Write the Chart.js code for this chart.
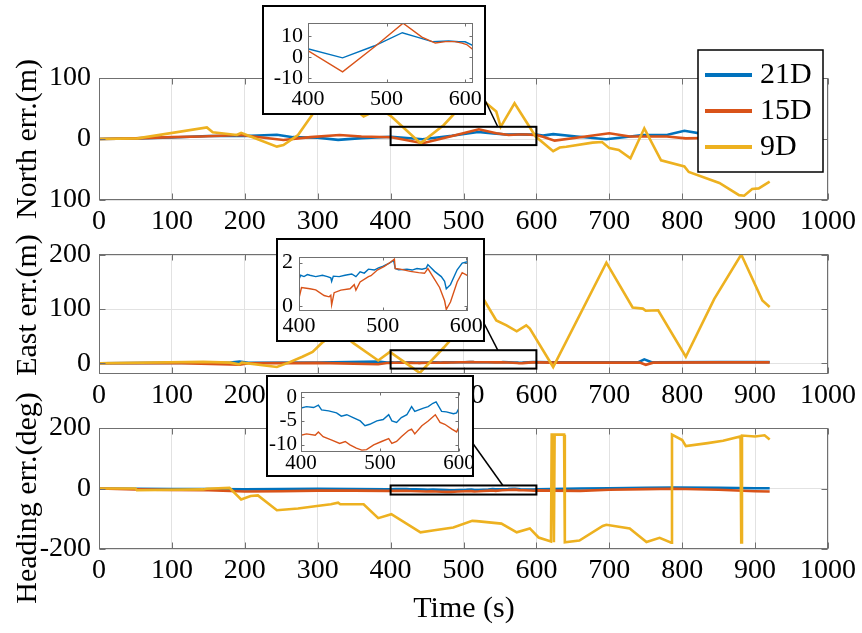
<!DOCTYPE html>
<html>
<head>
<meta charset="utf-8">
<script src="https://cdn.jsdelivr.net/npm/chart.js@4.4.1/dist/chart.umd.min.js"></script>
<style>
  html, body { margin: 0; padding: 0; background: #fff; }
  #fig { position: relative; width: 862px; height: 633px; overflow: hidden; background: #fff; }
  #fig canvas { position: absolute; }
</style>
</head>
<body>
<div id="fig">
  <canvas id="north" width="862" height="633" style="left:0;top:0"></canvas>
  <canvas id="east" width="862" height="633" style="left:0;top:0"></canvas>
  <canvas id="heading" width="862" height="633" style="left:0;top:0"></canvas>
  <canvas id="northZoom" width="224" height="110" style="left:262px;top:5px"></canvas>
  <canvas id="eastZoom" width="209" height="104" style="left:276px;top:238px"></canvas>
  <canvas id="headingZoom" width="208" height="102" style="left:266px;top:375px"></canvas>
</div>
<script>
// ---- series ----
const seriesNames = ['21D', '15D', '9D'];
const seriesColors = ['#0072BD', '#D95319', '#EDB120'];

// ---- ticks ----
const timeTicks = [0, 100, 200, 300, 400, 500, 600, 700, 800, 900, 1000];
const timeTickText = ['0', '100', '200', '300', '400', '500', '600', '700', '800', '900', '1000'];
const zoomTimeTicks = [400, 500, 600];
const zoomTimeTickText = ['400', '500', '600'];
const northTicks = [-100, 0, 100];
const northTickText = ['100', '0', '100'];
const eastTicks = [0, 100, 200];
const eastTickText = ['0', '100', '200'];
const headingTicks = [-200, 0, 200];
const headingTickText = ['-200', '0', '200'];
const northZoomTicks = [-10, 0, 10];
const northZoomTickText = ['-10', '0', '10'];
const eastZoomTicks = [0, 1, 2];
const eastZoomTickText = ['0', '1', '2'];
const headingZoomTicks = [-10, -5, 0];
const headingZoomTickText = ['-10', '-5', '0'];

// ---- axis titles ----
const yTitles = ['North err.(m)', 'East err.(m)', 'Heading err.(deg)'];
const xTitle = 'Time (s)';

// ---- North error (m) ----
const north21T = [0, 50, 100, 150, 200, 244, 266, 300, 328, 360, 401, 444, 484, 520, 541, 558, 579, 592, 600, 609, 623, 655, 696, 720, 746, 780, 803, 830, 870, 920];
const north21V = [0, 1, 2.5, 5, 5, 7, 3, 2, -1.5, 1.5, 3.8, -0.4, 5.2, 11.5, 9.2, 7.3, 7.6, 7.2, 7.2, 5.6, 8, 4, -0.5, 3, 6.6, 7, 13.6, 8, 10, 9];
const north15T = [0, 50, 100, 140, 194, 253, 290, 330, 360, 401, 444, 486, 521, 545, 562, 575, 587, 596, 602, 609, 625, 660, 700, 728, 779, 805, 850, 920];
const north15V = [0, 1, 3, 4, 6.5, -1.6, 3, 6.5, 4, 2.8, -7, 5.2, 16, 9.4, 6.6, 7.3, 7.3, 6.6, 5.9, 3.8, -2.7, 3, 9.3, 4, 4, 1, 2, 1];
const north9T = [0, 53, 148, 156, 189, 195, 208, 244, 253, 273, 292, 320, 345, 363, 385, 400, 441, 473, 490, 520, 545, 551, 570, 599, 623, 632, 641, 677, 690, 700, 713, 729, 748, 771, 803, 809, 851, 878, 885, 896, 905, 920];
const north9V = [0, 1, 19, 11, 6.5, 10, 4, -12.5, -10, 6.5, 39, 80, 55, 37, 50, 38, -7, 23, 45, 70, 45, 20, 58.5, 4, -20, -14, -12.6, -6, -5, -15, -18, -31.7, 17.5, -35, -45, -54, -72, -92, -93, -82, -81, -70];

// ---- East error (m) ----
const east21T = [0, 100, 180, 193, 205, 300, 383, 395, 400, 402, 406, 410, 413, 420, 428, 434, 438, 439, 441, 448, 455, 463, 468, 473, 478, 483, 490, 495, 500, 508, 513, 515, 519, 529, 535, 541, 547, 552, 554, 562, 570, 574, 576, 581, 589, 595, 601, 620, 700, 740, 748, 758, 850, 920];
const east21V = [0, 0.5, 1, 3, 0.8, 1, 3, 1.2, 1.23, 1.42, 1.36, 1.45, 1.42, 1.36, 1.42, 1.36, 1.30, 1.14, 1.38, 1.36, 1.42, 1.48, 1.36, 1.58, 1.52, 1.70, 1.66, 1.76, 1.83, 1.98, 2.10, 1.73, 1.67, 1.70, 1.66, 1.73, 1.70, 1.75, 1.91, 1.60, 1.36, 1.14, 0.80, 0.99, 1.67, 1.98, 2.04, 1.5, 1.5, 1.8, 7, 1.8, 2, 2];
const east15T = [0, 100, 193, 205, 300, 383, 395, 400, 403, 413, 420, 430, 436, 438, 439, 442, 450, 461, 466, 468, 473, 483, 486, 494, 502, 510, 514, 515, 521, 533, 543, 550, 554, 560, 568, 574, 576, 581, 589, 595, 601, 620, 700, 742, 750, 760, 850, 920];
const east15V = [0, 0.3, -3, 0, 0.5, -2, 0.3, 0.37, 0.86, 0.80, 0.75, 0.49, 0.43, 0.50, 0.06, 0.62, 0.74, 0.80, 0.99, 0.74, 1.11, 1.36, 1.40, 1.67, 1.83, 2.04, 2.16, 1.73, 1.70, 1.60, 1.54, 1.51, 1.73, 1.36, 0.86, 0.25, -0.15, 0.19, 1.11, 1.54, 1.42, 1, 1, 1, -3, 1, 1.5, 1.5];
const east9T = [0, 143, 180, 192, 196, 244, 260, 279, 293, 307, 328, 349, 383, 399, 440, 473, 529, 545, 559, 573, 586, 591, 623, 696, 732, 746, 750, 767, 805, 844, 881, 910, 920];
const east9V = [0, 2.5, 1, -2, 1, -7, 1, 12, 21, 39, 60, 37, 5, 21, -18, 29, 115, 79, 70, 59, 70, 64, -7, 186, 103, 101, 97, 98, 12, 119, 201, 116, 104];

// ---- Heading error (deg) ----
const heading21T = [0, 50, 100, 150, 200, 250, 300, 350, 395, 400, 407, 416, 422, 426, 435, 445, 451, 458, 466, 475, 481, 487, 496, 504, 511, 515, 521, 527, 534, 540, 544, 555, 561, 567, 571, 578, 584, 593, 597, 600, 620, 660, 700, 750, 790, 850, 900, 920];
const heading21V = [0, -1, -2, -2, -3, -2, -1, -2, -2.5, -2.3, -2, -2.2, -1.7, -2.7, -2.9, -3.3, -4, -3.7, -4.3, -5, -6, -5.7, -5, -4.7, -3.7, -5, -5.3, -4.3, -3.7, -2, -3, -2.3, -2, -1.3, -1, -3, -3.1, -3.5, -3.3, -2.3, -2, 0, 1, 2, 3, 2, 1, 1];
const heading15T = [0, 50, 100, 150, 200, 250, 300, 350, 395, 400, 407, 418, 422, 428, 439, 449, 456, 462, 470, 477, 483, 492, 502, 511, 515, 521, 527, 536, 540, 544, 553, 561, 570, 576, 582, 591, 597, 600, 620, 660, 700, 750, 790, 850, 900, 920];
const heading15V = [0, -3, -5, -6, -10, -9, -7, -7, -8, -8, -7.7, -8, -7.3, -8.3, -9, -9.7, -9.3, -10, -10.7, -11.1, -11, -10, -9.3, -8.7, -9.7, -9.3, -8.3, -7, -6.7, -7.7, -6, -5, -3.7, -5.3, -5.7, -6.7, -7.3, -6.3, -7, -8, -4, -2, -1, -4, -9, -10];
const heading9T = [0, 50, 52, 143, 148, 179, 195, 208, 218, 244, 273, 299, 318, 328, 331, 363, 383, 401, 441, 460, 486, 512, 518, 552, 573, 591, 603, 620, 621, 623, 624, 625, 638, 639, 659, 691, 696, 728, 751, 769, 785, 786, 800, 805, 835, 856, 880, 881, 882, 900, 913, 920];
const heading9V = [0, 0, -6, -3, -1, 2, -36, -25, -23, -72, -66, -58, -52, -47, -52, -52, -98, -85, -145, -138, -129, -107, -108, -116, -145, -132, -162, -175, 178, 178, -178, 178, 178, -178, -172, -124, -120, -132, -177, -163, -179, 178, 160, 140, 150, 158, 172, -178, 175, 172, 176, 162];

// ---- zoom windows ----
const northZoomWindow = { x: [400, 600], y: [-10, 20] };
const eastZoomWindow = { x: [400, 600], y: [-10, 24] };
const headingZoomWindow = { x: [400, 600], y: [-20, 10] };

const SERIF = "'Liberation Serif', 'Times New Roman', Times, serif";
const AXIS_COLOR = '#707070';
const GRID_COLOR = '#e2e2e2';
const PLOT_LEFT = 99, PLOT_RIGHT = 828, PAGE_W = 862, PAGE_H = 633;

Chart.defaults.font.family = SERIF;
Chart.defaults.color = '#000';

const xy = (ts, vs) => ts.map((t, i) => ({ x: t, y: vs[i] }));

function lineSets(sets, width) {
  return sets.map((s, i) => ({
    label: seriesNames[i],
    data: s,
    borderColor: seriesColors[i],
    backgroundColor: seriesColors[i],
    borderWidth: width,
    pointRadius: 0,
    tension: 0,
    fill: false,
    order: 3 - i
  }));
}

// axes box, inner ticks, zoom window, connector, titles and legend
const framePlugin = {
  id: 'frame',
  beforeDraw(chart, args, o) {
    if (o.paper) {
      const c = chart.ctx;
      c.save();
      c.fillStyle = '#fff';
      c.fillRect(0, 0, chart.width, chart.height);
      c.restore();
    }
  },
  afterDraw(chart, args, o) {
    const c = chart.ctx, a = chart.chartArea, xs = chart.scales.x, ys = chart.scales.y;
    c.save();
    const L = Math.round(a.left) + 0.5, R = Math.round(a.right) - 0.5;
    const T = Math.round(a.top) + 0.5, B = Math.round(a.bottom) - 0.5;
    const tl = o.tickLen || 0;
    c.strokeStyle = AXIS_COLOR;
    c.lineWidth = 1;
    c.beginPath();
    xs.ticks.forEach(t => {
      const px = Math.round(xs.getPixelForValue(t.value)) + 0.5;
      if (px < L - 1 || px > R + 1) return;
      c.moveTo(px, B); c.lineTo(px, B - tl);
      c.moveTo(px, T); c.lineTo(px, T + tl);
    });
    ys.ticks.forEach(t => {
      const py = Math.round(ys.getPixelForValue(t.value)) + 0.5;
      c.moveTo(L, py); c.lineTo(L + tl, py);
      c.moveTo(R, py); c.lineTo(R - tl, py);
    });
    c.stroke();
    c.strokeRect(L, T, R - L, B - T);

    if (o.zoomWindow) {
      const w = o.zoomWindow;
      const x0 = xs.getPixelForValue(w.x[0]), x1 = xs.getPixelForValue(w.x[1]);
      const y0 = ys.getPixelForValue(w.y[1]), y1 = ys.getPixelForValue(w.y[0]);
      c.strokeStyle = '#000';
      c.lineWidth = 2;
      c.strokeRect(x0, y0, x1 - x0, y1 - y0);
    }
    if (o.link) {
      c.strokeStyle = '#000';
      c.lineWidth = 1.5;
      c.beginPath();
      c.moveTo(o.link.from[0], o.link.from[1]);
      c.lineTo(xs.getPixelForValue(o.link.to[0]), ys.getPixelForValue(o.link.to[1]));
      c.stroke();
    }
    if (o.yTitle) {
      c.fillStyle = '#000';
      c.font = '30px ' + SERIF;
      c.textAlign = 'center';
      c.textBaseline = 'alphabetic';
      c.translate(o.yTitle.x, o.yTitle.y);
      c.rotate(-Math.PI / 2);
      c.fillText(o.yTitle.text, 0, 0);
      c.setTransform(1, 0, 0, 1, 0, 0);
    }
    if (o.xTitle) {
      c.fillStyle = '#000';
      c.font = '30px ' + SERIF;
      c.textAlign = 'center';
      c.textBaseline = 'alphabetic';
      c.fillText(o.xTitle.text, o.xTitle.x, o.xTitle.y);
    }
    if (o.legend) {
      const g = o.legend;
      c.fillStyle = '#fff';
      c.fillRect(g.x, g.y, g.w, g.h);
      c.strokeStyle = '#000';
      c.lineWidth = 1.5;
      c.strokeRect(g.x, g.y, g.w, g.h);
      c.font = '30px ' + SERIF;
      c.textAlign = 'left';
      c.textBaseline = 'middle';
      chart.data.datasets.forEach((d, i) => {
        const yy = g.y + 25 + i * 36;
        c.strokeStyle = d.borderColor;
        c.lineWidth = 4;
        c.beginPath();
        c.moveTo(g.x + 7, yy);
        c.lineTo(g.x + 54, yy);
        c.stroke();
        c.fillStyle = '#000';
        c.fillText(d.label, g.x + 62, yy);
      });
    }
    if (o.outline) {
      c.strokeStyle = '#000';
      c.lineWidth = 2;
      c.strokeRect(1, 1, chart.width - 2, chart.height - 2);
    }
    c.restore();
  }
};

function mainChart(id, p) {
  return new Chart(document.getElementById(id), {
    type: 'line',
    data: { datasets: lineSets(p.sets, 2.6) },
    options: {
      responsive: false,
      animation: false,
      devicePixelRatio: 1,
      events: [],
      layout: { padding: { left: 0, right: PAGE_W - PLOT_RIGHT, top: p.top, bottom: PAGE_H - p.bottom - p.xAxisH } },
      plugins: {
        legend: { display: false },
        tooltip: { enabled: false },
        frame: p.frame
      },
      scales: {
        x: {
          type: 'linear', min: 0, max: 1000,
          afterBuildTicks: s => { s.ticks = timeTicks.map(v => ({ value: v })); },
          afterFit: s => { s.height = p.xAxisH; },
          grid: { color: GRID_COLOR, lineWidth: 1, drawTicks: false },
          border: { display: false },
          ticks: { font: { size: 28 }, color: '#000', padding: 5, maxRotation: 0, autoSkip: false,
                   callback: (v, i) => timeTickText[i] }
        },
        y: {
          type: 'linear', min: p.yMin, max: p.yMax,
          afterBuildTicks: s => { s.ticks = p.yTicks.map(v => ({ value: v })); },
          afterFit: s => { s.width = PLOT_LEFT; },
          grid: { color: GRID_COLOR, lineWidth: 1, drawTicks: false },
          border: { display: false },
          ticks: { font: { size: 28 }, color: '#000', padding: 8, callback: (v, i) => p.yText[i] }
        }
      }
    },
    plugins: [framePlugin]
  });
}

function zoomChart(id, p) {
  const el = document.getElementById(id);
  return new Chart(el, {
    type: 'line',
    data: { datasets: lineSets(p.sets, 1.4) },
    options: {
      responsive: false,
      animation: false,
      devicePixelRatio: 1,
      events: [],
      layout: { padding: { left: 0, right: p.right, top: p.top, bottom: 0 } },
      plugins: {
        legend: { display: false },
        tooltip: { enabled: false },
        frame: { paper: true, outline: true, tickLen: 3 }
      },
      scales: {
        x: {
          type: 'linear', min: p.xMin, max: p.xMax,
          afterBuildTicks: s => { s.ticks = zoomTimeTicks.map(v => ({ value: v })); },
          afterFit: s => { s.height = p.xH; },
          grid: { display: false, drawTicks: false },
          border: { display: false },
          ticks: { font: { size: p.font }, color: '#000', padding: p.xPad, maxRotation: 0, autoSkip: false,
                   callback: (v, i) => zoomTimeTickText[i] }
        },
        y: {
          type: 'linear', min: p.yMin, max: p.yMax,
          afterBuildTicks: s => { s.ticks = p.yTicks.map(v => ({ value: v })); },
          afterFit: s => { s.width = p.yW; },
          grid: { display: false, drawTicks: false },
          border: { display: false },
          ticks: { font: { size: p.font }, color: '#000', padding: p.yPad, callback: (v, i) => p.yText[i] }
        }
      }
    },
    plugins: [framePlugin]
  });
}

const northSets = [xy(north21T, north21V), xy(north15T, north15V), xy(north9T, north9V)];
const eastSets = [xy(east21T, east21V), xy(east15T, east15V), xy(east9T, east9V)];
const headingSets = [xy(heading21T, heading21V), xy(heading15T, heading15V), xy(heading9T, heading9V)];

mainChart('north', {
  sets: northSets, top: 78, bottom: 200, xAxisH: 40,
  yMin: -100, yMax: 100, yTicks: northTicks, yText: northTickText,
  frame: {
    tickLen: 6,
    zoomWindow: northZoomWindow,
    link: { from: [476.8, 83], to: [547, northZoomWindow.y[1]] },
    yTitle: { text: yTitles[0], x: 36, y: 139 },
    legend: { x: 698, y: 50, w: 125, h: 122 }
  }
});

mainChart('east', {
  sets: eastSets, top: 254, bottom: 374, xAxisH: 40,
  yMin: -20, yMax: 202, yTicks: eastTicks, yText: eastTickText,
  frame: {
    tickLen: 6,
    zoomWindow: eastZoomWindow,
    link: { from: [477.7, 311], to: [547, eastZoomWindow.y[1]] },
    yTitle: { text: yTitles[1], x: 36, y: 305 }
  }
});

mainChart('heading', {
  sets: headingSets, top: 428, bottom: 549, xAxisH: 84,
  yMin: -200, yMax: 200, yTicks: headingTicks, yText: headingTickText,
  frame: {
    tickLen: 6,
    zoomWindow: headingZoomWindow,
    link: { from: [459, 424], to: [554, headingZoomWindow.y[1]] },
    yTitle: { text: yTitles[2], x: 36, y: 498 },
    xTitle: { text: xTitle, x: 464, y: 617 }
  }
});

zoomChart('northZoom', {
  sets: northSets.slice(0, 2), xMin: 400, xMax: 610, yMin: -12.3, yMax: 16,
  yTicks: northZoomTicks, yText: northZoomTickText,
  top: 11, right: 13, xH: 32, yW: 46, font: 22, xPad: 3, yPad: 5
});

zoomChart('eastZoom', {
  sets: eastSets.slice(0, 2), xMin: 400, xMax: 602, yMin: -0.22, yMax: 2.25,
  yTicks: eastZoomTicks, yText: eastZoomTickText,
  top: 6, right: 13, xH: 31, yW: 23, font: 22, xPad: 2, yPad: 6
});

zoomChart('headingZoom', {
  sets: headingSets.slice(0, 2), xMin: 400, xMax: 600, yMin: -11.5, yMax: 1.14,
  yTicks: headingZoomTicks, yText: headingZoomTickText,
  top: 14, right: 15, xH: 25, yW: 35, font: 21, xPad: -1, yPad: 4
});
</script>
</body>
</html>
